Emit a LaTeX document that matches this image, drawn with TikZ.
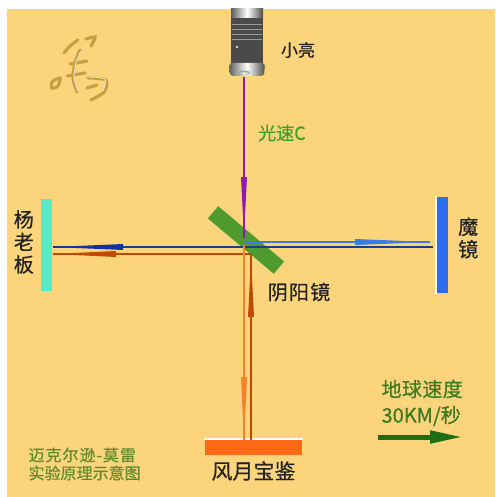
\documentclass[tikz,border=0pt]{standalone}
\usepackage{fontspec}
\setmainfont{Noto Sans CJK SC}[FakeBold=0.5]
\usetikzlibrary{arrows.meta, positioning, calc}
\definecolor{cbg}{HTML}{FCD47C}
\definecolor{cpurple}{HTML}{8E1CB4}
\definecolor{clblue}{HTML}{3C7BE6}
\definecolor{cdblue}{HTML}{1C3C8C}
\definecolor{cdorange}{HTML}{C04A04}
\definecolor{clorange}{HTML}{F5822A}
\definecolor{cgreen}{HTML}{4E9A2E}
\definecolor{ccyan}{HTML}{52EEC6}
\definecolor{cblue}{HTML}{2E6CF0}
\definecolor{cred}{HTML}{FF6814}
\definecolor{cearth}{HTML}{1E6E14}
\definecolor{ctext}{HTML}{222222}
\definecolor{cgtxt}{HTML}{3CA02A}
\definecolor{cetxt}{HTML}{3A7A22}
\definecolor{cntxt}{HTML}{5E8C2C}
\definecolor{csign}{HTML}{C8A044}
\definecolor{cmetal}{HTML}{9A9A9A}
\definecolor{cdark}{HTML}{4A4A4A}
\tikzset{
  every picture/.style={line width=1.2pt},
  mirror/.style={fill=#1, draw=none, inner sep=0pt},
  beam/.style={draw=#1, line width=2pt},
  lbl/.style={font=\fontsize{17}{20}\selectfont, text=ctext, inner sep=0pt},
  vlbl/.style={lbl, align=center, font=\fontsize{19}{22.5}\selectfont},
  sign/.style={draw=csign, line width=3.2pt, line cap=round},
}

\begin{document}
\begin{tikzpicture}[x=1pt, y=-1pt]
  \useasboundingbox (0,0) rectangle (495,497);
  \fill[white] (0,0) rectangle (495,497);
  \fill[cbg] (7,9) rectangle (495,497);
  \def\beamhead#1#2#3{\fill[#1] ($(#2)!3pt!90:(#3)$) -- (#3) -- ($(#2)!3pt!-90:(#3)$) -- cycle;}
  % signature
  \draw[sign] plot[smooth] coordinates {(64,53) (70,46) (78,40)};
  \draw[sign] plot[smooth] coordinates {(86,39) (95,37) (91,46)};
  \draw[sign] plot[smooth] coordinates {(80,50) (75,63) (73,78) (77,92)};
  \draw[sign] (70,64) -- (87,61);
  \draw[sign] (67,76) -- (85,73);
  \draw[sign] plot[smooth cycle] coordinates {(52,82) (60,78) (58,86) (52,88)};
  \draw[sign] plot[smooth] coordinates {(88,78) (106,80) (104,92) (91,100)};
  \draw[sign] (87,88) -- (97,85);
  \draw[white!70!csign, line width=1pt] plot[smooth] coordinates {(81,51) (76,63) (74,78) (78,91)};
  \draw[white!70!csign, line width=1pt] plot[smooth] coordinates {(89,77) (105,79) (103,91)};
  % laser pen
  \shade[left color=cmetal!60!black, right color=cmetal!50!black, middle color=white] (231,9) rectangle (263,18);
  \fill[cdark] (231,18) rectangle (263,63);
  \foreach \y in {24,29,34,39} \draw[cmetal, line width=0.8pt] (232,\y) -- (262,\y);
  \fill[white!75!cdark] (237,47) circle (1.3);
  \shade[left color=cmetal!60!black, right color=cmetal!50!black, middle color=white, rounded corners=3pt]
    (229,63) -- (265,63) -- (264,76) -- (230,76) -- cycle;
  \shade[inner color=white, outer color=cmetal] (244,73) ellipse (6 and 2.5);
  \coordinate (laser) at (244,77);
  \node[lbl, font=\fontsize{17}{20}\selectfont] (xl) at (298,50) {小亮};
  % mirrors
  \node[mirror=cgreen, minimum width=86pt, minimum height=16pt, rotate=-40] (split) at (246,240) {};
  \node[mirror=ccyan, minimum width=11pt, minimum height=92pt] (yang) at (46.5,245) {};
  \node[mirror=cblue, minimum width=11pt, minimum height=96pt] (mo) at (442.5,245) {};
  \draw[white, line width=2pt] (mo.north west) -- (mo.south west);
  \node[mirror=cred, minimum width=97pt, minimum height=15pt] (feng) at (253.5,447.5) {};
  \draw[white, line width=2pt] (feng.north west) -- (feng.north east);
  \node[vlbl, left=6pt of yang, yshift=3pt, font=\fontsize{20}{22.5}\selectfont] (yanglbl) {杨\\老\\板};
  \node[vlbl, right=9pt of mo, yshift=7pt, font=\fontsize{20}{22.5}\selectfont] (molbl) {魔\\镜};
  \node[lbl, below=5pt of feng, font=\fontsize{21}{24}\selectfont] (fenglbl) {风月宝鉴};
  \node[lbl, font=\fontsize{20}{24}\selectfont\addfontfeature{LetterSpace=6}] (splitlbl) at (299,292) {阴阳镜};
  % beam ends
  \coordinate (ps) at (244,238);
  \coordinate (lb0) at (244,242); \coordinate (lb1) at (430,242);
  \coordinate (db0) at (53,247);  \coordinate (db1) at (433,247);
  \coordinate (do0) at (53,254);  \coordinate (do1) at (251,254); \coordinate (do2) at (251,440);
  \coordinate (lo0) at (244,245); \coordinate (lo1) at (244,440);
  % beams
  \draw[beam=cpurple] (laser) -- (ps);
  \draw[beam=clblue] (lb0) -- (lb1);
  \draw[beam=cdblue] (db0) -- (db1);
  \draw[beam=cdorange] (do0) -- (do1) -- (do2);
  \draw[beam=clorange] (lo0) -- (lo1);
  \beamhead{cpurple}{244,177}{244,236}
  \beamhead{clblue}{355,242}{430,242}
  \beamhead{cdblue!80!blue}{123,247}{53,247}
  \beamhead{cdorange}{116,254}{53,254}
  \beamhead{cdorange}{251,317}{251,258}
  \beamhead{clorange}{244,377}{244,440}
  \node[lbl, text=cgtxt, font=\fontsize{18}{20}\selectfont] (clbl) at (282,133) {光速C};
  % earth motion
  \node[lbl, text=cetxt, anchor=west, font=\fontsize{20}{24}\selectfont\addfontfeature{LetterSpace=2}] (earth) at (381,389) {地球速度};
  \node[lbl, text=cetxt, anchor=west, font=\fontsize{20}{24}\selectfont] (speed) at (381,416) {30KM/秒};
  \coordinate (e0) at (378,437); \coordinate (e1) at (463,437);
  \draw[cearth, line width=5pt, -{Triangle[length=33pt, width=12pt]}] (e0) -- (e1);
  % caption
  \node[lbl, text=cntxt, anchor=west, font=\fontsize{16}{19}\selectfont\addfontfeature{LetterSpace=6}] (title1) at (28,455) {迈克尔逊-莫雷};
  \node[lbl, text=cntxt, anchor=west, font=\fontsize{16}{19}\selectfont] (title2) at (28,473) {实验原理示意图};
\end{tikzpicture}
\end{document}
